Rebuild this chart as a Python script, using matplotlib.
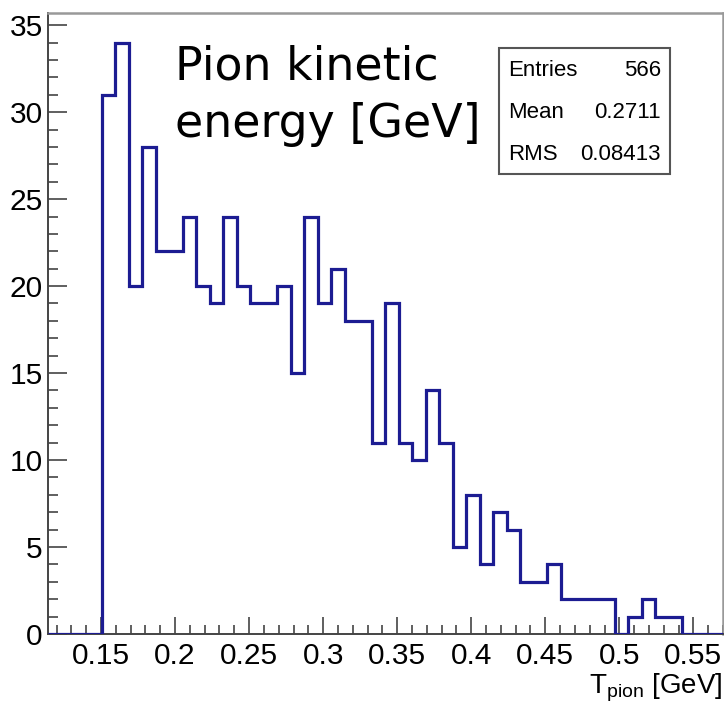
import numpy as np
import matplotlib
matplotlib.use("Agg")
import matplotlib.pyplot as plt
from matplotlib import font_manager
from matplotlib.patches import Rectangle

# ---- data ----
x_min, x_max, n_bins = 0.114, 0.570, 50
counts = [0, 0, 0, 0,
          31, 34, 20, 28, 22, 22, 24, 20, 19, 24, 20, 19, 19, 20, 15, 24,
          19, 21, 18, 18, 11, 19, 11, 10, 14, 11, 5, 8, 4, 7, 6, 3, 3, 4,
          2, 2, 2, 2, 0, 1, 2, 1, 1,
          0, 0, 0]
x_ticks = [0.15, 0.2, 0.25, 0.3, 0.35, 0.4, 0.45, 0.5, 0.55]
x_tick_labels = ["0.15", "0.2", "0.25", "0.3", "0.35", "0.4", "0.45", "0.5", "0.55"]
y_ticks = [0, 5, 10, 15, 20, 25, 30, 35]
stat_names = ["Entries", "Mean", "RMS"]
stat_values = ["566", "0.2711", "0.08413"]
title_lines = ["Pion kinetic", "energy [GeV]"]
x_label = r"T$_{\mathregular{pion}}$ [GeV]"

names = {f.name for f in font_manager.fontManager.ttflist}
narrow = "Liberation Sans Narrow" if "Liberation Sans Narrow" in names else "Liberation Sans"
plt.rcParams['font.family'] = [narrow, 'DejaVu Sans']
plt.rcParams['mathtext.fontset'] = 'custom'
plt.rcParams['mathtext.rm'] = narrow

W, H = 724, 712
fig = plt.figure(figsize=(W / 100, H / 100), dpi=100)
L, R, T, B = 47.7, 723, 13, 634
ax = fig.add_axes([L / W, 1 - B / H, (R - L) / W, (B - T) / H])

edges = np.linspace(x_min, x_max, n_bins + 1)
ax.stairs(counts, edges, color="#1c1c92", linewidth=2.3, baseline=0, zorder=3)

ax.set_xlim(x_min, x_max)
ax.set_ylim(0, 35.7)

ax.set_xticks(x_ticks)
ax.set_xticklabels(x_tick_labels)
ax.set_xticks(np.arange(0.12, 0.5701, 0.01), minor=True)
ax.set_yticks(y_ticks)
ax.set_yticks(np.arange(0, 35.7, 1), minor=True)

tick_col = "#444444"
ax.tick_params(axis='both', which='both', direction='in', colors=tick_col,
               labelcolor='black', width=1.2)
ax.tick_params(axis='y', which='major', length=13.7, pad=3.5, labelsize=21.5)
ax.tick_params(axis='y', which='minor', length=7.2)
ax.tick_params(axis='x', which='major', length=12.2, pad=6, labelsize=21.5)
ax.tick_params(axis='x', which='minor', length=6.5)

for s in ['left', 'bottom']:
    ax.spines[s].set_color(tick_col)
    ax.spines[s].set_linewidth(1.4)
for s in ['top', 'right']:
    ax.spines[s].set_color("#999999")
    ax.spines[s].set_linewidth(1.8)

# title text (handwritten style in original)
for line, base in zip(title_lines, [80, 137]):
    fig.text(175 / W, 1 - base / H, line, fontsize=33, family='DejaVu Sans',
             ha='left', va='baseline')

# stats box
bx0, by0, bx1, by1 = 499, 48, 670, 174
fig.patches.append(Rectangle((bx0 / W, 1 - by1 / H), (bx1 - bx0) / W, (by1 - by0) / H,
                             transform=fig.transFigure, facecolor='white',
                             edgecolor='#555555', linewidth=1.5, zorder=5))
row_y = [70, 112, 154]
for name, val, yy in zip(stat_names, stat_values, row_y):
    fig.text(508 / W, 1 - yy / H, name, fontsize=16, ha='left', va='center', zorder=6)
    fig.text(661 / W, 1 - yy / H, val, fontsize=16, ha='right', va='center', zorder=6)

# x axis label
fig.text(722 / W, 19 / H, x_label, fontsize=20, ha='right', va='baseline')

fig.savefig("out.png", dpi=100)
